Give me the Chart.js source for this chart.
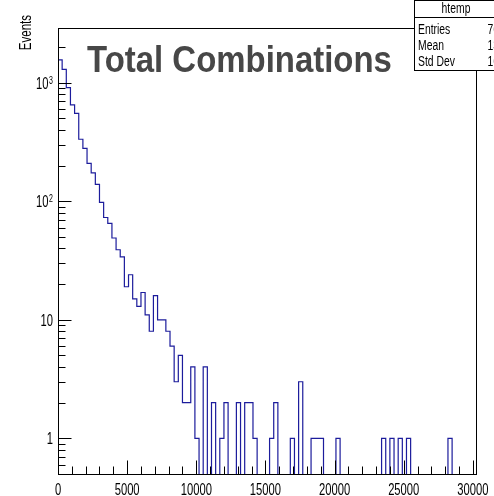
<!DOCTYPE html>
<html>
<head>
<meta charset="utf-8">
<title>Total Combinations</title>
<script src="https://cdn.jsdelivr.net/npm/chart.js@4.4.1/dist/chart.umd.min.js"></script>
<style>
  html, body { margin: 0; padding: 0; background: #fff; }
  canvas { display: block; }
</style>
</head>
<body>
<canvas id="hist" width="494" height="496"></canvas>
<script>
// histogram: 300-wide bins starting at 0
const binWidth = 300;
const counts = [
  930, 1560, 1300, 910, 650, 553, 334, 280, 209, 174,
  139, 98, 73, 65, 49, 39, 34, 19, 24, 15,
  13, 17, 11, 8, 16, 10, 10, 8, 6, 3,
  5, 2, 2, 4, 1, 0, 4, 0, 2, 0,
  1, 2, 0, 0, 2, 0, 2, 2, 1, 0,
  0, 0, 1, 2, 0, 0, 0, 1, 0, 3,
  0, 0, 1, 1, 1, 0, 0, 0, 1, 0,
  0, 0, 0, 0, 0, 0, 0, 0, 0, 1,
  0, 1, 0, 1, 0, 1, 0, 0, 0, 0,
  0, 0, 0, 0, 0, 1, 0, 0, 0, 0,
  0
];
const xTicks = [0, 5000, 10000, 15000, 20000, 25000, 30000];
const yTicks = [1, 10, 100, 1000];
const histName = 'htemp';
const plotTitle = 'Total Combinations';
const yTitle = 'Events';

const yMin = 0.49;
const yMax = 2900;
const xMax = counts.length * binWidth;
// empty bins go below the log axis so the outline drops to the frame
const floorValue = 0.1;

const points = [{ x: 0, y: floorValue }];
counts.forEach((c, i) => points.push({ x: i * binWidth, y: c > 0 ? c : floorValue }));
points.push({ x: xMax, y: floorValue });

// stats box values
let nEntries = 0, sumX = 0, sumX2 = 0;
counts.forEach((c, i) => {
  const xc = (i + 0.5) * binWidth;
  nEntries += c;
  sumX += c * xc;
  sumX2 += c * xc * xc;
});
const mean = sumX / nEntries;
const stdDev = Math.sqrt(sumX2 / nEntries - mean * mean);
const statRows = [
  ['Entries', String(nEntries)],
  ['Mean', mean.toPrecision(4)],
  ['Std Dev', stdDev.toPrecision(4)]
];

function text(ctx, str, px, py, font, align, sx, color) {
  ctx.save();
  ctx.translate(px, py);
  ctx.scale(sx, 1);
  ctx.font = font;
  ctx.textAlign = align;
  ctx.textBaseline = 'alphabetic';
  ctx.fillStyle = color || '#000';
  ctx.fillText(str, 0, 0);
  ctx.restore();
}

const labelFont = '16px "Liberation Sans", Arial, sans-serif';
const supFont = '10px "Liberation Sans", Arial, sans-serif';
const narrow = 0.7;

const rootFrame = {
  id: 'rootFrame',
  afterDatasetsDraw(chart) {
    const { ctx, chartArea: a, scales: { x, y } } = chart;
    ctx.save();
    ctx.strokeStyle = '#000';
    ctx.lineWidth = 1;

    // frame
    ctx.strokeRect(Math.round(a.left) + 0.5, Math.round(a.top) + 0.5,
      Math.round(a.right - a.left) - 1, Math.round(a.bottom - a.top) - 1);

    const bottom = Math.round(a.bottom) - 0.5;
    const left = Math.round(a.left) + 0.5;

    // x ticks every 1000, long ones on the labels
    ctx.beginPath();
    for (let v = 0; v <= xMax; v += 1000) {
      const px = Math.round(x.getPixelForValue(v)) + 0.5;
      const len = v % 5000 === 0 ? 14 : 8;
      ctx.moveTo(px, bottom);
      ctx.lineTo(px, bottom - len);
    }
    // y ticks: decades long, 2..9 short
    for (let d = -1; d <= 3; d++) {
      for (let m = 1; m <= 9; m++) {
        const v = m * Math.pow(10, d);
        if (v < yMin || v > yMax) continue;
        const py = Math.round(y.getPixelForValue(v)) + 0.5;
        const len = m === 1 ? 13 : 7;
        ctx.moveTo(left, py);
        ctx.lineTo(left + len, py);
      }
    }
    ctx.stroke();

    // x labels
    xTicks.forEach(v => {
      text(ctx, String(v), x.getPixelForValue(v), 495, labelFont, 'center', narrow);
    });

    // y labels, 10^n written with a raised exponent
    yTicks.forEach(v => {
      const py = y.getPixelForValue(v);
      const e = Math.round(Math.log10(v));
      if (e >= 2) {
        text(ctx, String(e), 53, py + 1, supFont, 'right', narrow);
        text(ctx, '10', 48.5, py + 6, labelFont, 'right', narrow);
      } else {
        text(ctx, String(v), 53, py + 6, labelFont, 'right', narrow);
      }
    });

    // y axis title
    ctx.save();
    ctx.translate(31, 15);
    ctx.rotate(-Math.PI / 2);
    text(ctx, yTitle, 0, 0, labelFont, 'right', 0.72);
    ctx.restore();

    // big title
    text(ctx, plotTitle, 87, 72, 'bold 37px "Liberation Sans", Arial, sans-serif', 'left', 0.89, '#474747');

    // stats box, running off the right edge
    const bx = 414.5, by = 0.5, bw = 90, bh = 70;
    ctx.fillStyle = '#fff';
    ctx.fillRect(bx, by, bw, bh);
    ctx.strokeRect(bx, by, bw, bh);
    ctx.beginPath();
    ctx.moveTo(bx, 17.5);
    ctx.lineTo(bx + bw, 17.5);
    ctx.stroke();
    const boxFont = '14px "Liberation Sans", Arial, sans-serif';
    text(ctx, histName, 456, 13, boxFont, 'center', 0.74);
    statRows.forEach((r, i) => {
      const base = 34 + i * 16;
      text(ctx, r[0], 418, base, boxFont, 'left', 0.74);
      text(ctx, r[1], 487.5, base, boxFont, 'left', 0.74);
    });

    ctx.restore();
  }
};

new Chart(document.getElementById('hist').getContext('2d'), {
  type: 'line',
  data: {
    datasets: [{
      label: histName,
      data: points,
      stepped: 'after',
      borderColor: '#1c1c9c',
      borderWidth: 1.2,
      pointRadius: 0,
      fill: false,
      tension: 0
    }]
  },
  options: {
    responsive: false,
    animation: false,
    devicePixelRatio: 1,
    layout: { padding: { left: 58, top: 28, right: 17, bottom: 21 } },
    scales: {
      x: { type: 'linear', min: 0, max: xMax, display: false },
      y: { type: 'logarithmic', min: yMin, max: yMax, display: false }
    },
    plugins: {
      legend: { display: false },
      title: { display: false },
      tooltip: { enabled: false }
    }
  },
  plugins: [rootFrame]
});
</script>
</body>
</html>
